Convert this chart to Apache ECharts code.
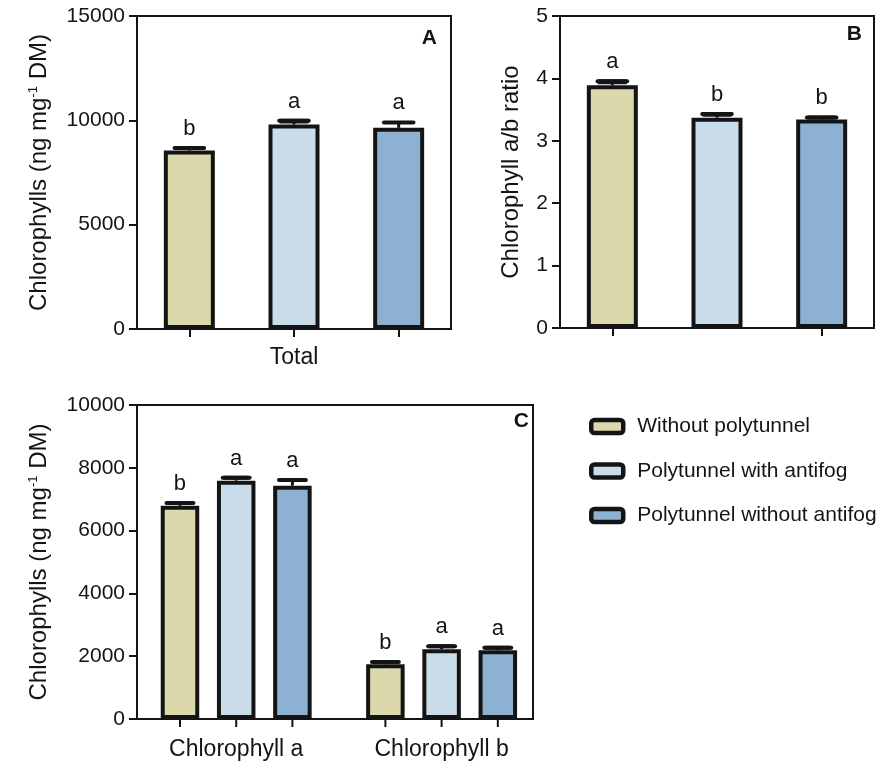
<!DOCTYPE html>
<html><head><meta charset="utf-8">
<script src="https://cdn.jsdelivr.net/npm/echarts@6/dist/echarts.min.js"></script>
<style>html,body{margin:0;padding:0;background:#fff}#chart{width:894px;height:765px}</style>
</head><body><div id="chart"></div>
<script>
// ---------- data ----------
const treatments = ['Without polytunnel', 'Polytunnel with antifog', 'Polytunnel without antifog'];
const treatmentColors = ['#dbd8ac', '#c9dcea', '#8db1d0'];

// Panel A: total chlorophylls
const totalValues = [8550, 9800, 9640];
const totalErrors = [120, 180, 260];
const totalLetters = ['b', 'a', 'a'];
const totalTicks = [0, 5000, 10000, 15000];

// Panel B: chlorophyll a/b ratio
const ratioValues = [3.89, 3.37, 3.34];
const ratioErrors = [0.065, 0.06, 0.035];
const ratioLetters = ['a', 'b', 'b'];
const ratioTicks = [0, 1, 2, 3, 4, 5];

// Panel C: chlorophyll a and b
const pigmentCategories = ['Chlorophyll a', 'Chlorophyll b'];
const pigmentWithoutPolytunnel = [6790, 1745];
const pigmentWithAntifog = [7590, 2225];
const pigmentWithoutAntifog = [7430, 2190];
const pigmentErrWithoutPolytunnel = [90, 70];
const pigmentErrWithAntifog = [90, 90];
const pigmentErrWithoutAntifog = [185, 80];
const pigmentLettersWithoutPolytunnel = ['b', 'b'];
const pigmentLettersWithAntifog = ['a', 'a'];
const pigmentLettersWithoutAntifog = ['a', 'a'];
const pigmentTicks = [0, 2000, 4000, 6000, 8000, 10000];

// ---------- style ----------
const FONT = '"Liberation Sans", Arial, Helvetica, sans-serif';
const INK = '#141414';
const BORDER_W = 4;
const BAR_W_AB = 51;
const BAR_W_C = 38.5;
const BAR_GAP_C = '46%';

const pigmentValues = [pigmentWithoutPolytunnel, pigmentWithAntifog, pigmentWithoutAntifog];
const pigmentErrors = [pigmentErrWithoutPolytunnel, pigmentErrWithAntifog, pigmentErrWithoutAntifog];
const pigmentLetters = [pigmentLettersWithoutPolytunnel, pigmentLettersWithAntifog, pigmentLettersWithoutAntifog];

function yAxisFor(gridIndex, ticks, name, nameGap, show) {
  const step = ticks[1] - ticks[0];
  return {
    gridIndex, type: 'value', show: show !== false,
    min: ticks[0], max: ticks[ticks.length - 1], interval: step,
    splitLine: { show: false },
    axisLine: { show: true, lineStyle: { color: INK, width: 2 } },
    axisTick: { show: true, length: 8, lineStyle: { color: INK, width: 2 } },
    axisLabel: { fontSize: 21, fontFamily: FONT, color: INK, margin: 12, formatter: (v) => String(v) },
    name: name, nameLocation: 'middle', nameRotate: 90, nameGap: nameGap,
    nameTextStyle: {
      fontFamily: FONT, color: INK,
      rich: {
        t: { fontSize: 24, fontFamily: FONT, color: INK, lineHeight: 24 },
        s: { fontSize: 13, fontFamily: FONT, color: INK, lineHeight: 13, verticalAlign: 'top' }
      }
    }
  };
}

function errorShapes(x, base, top, half, letter) {
  return [
    { type: 'line', shape: { x1: x, y1: base, x2: x, y2: top }, style: { stroke: INK, lineWidth: 3 } },
    { type: 'rect', shape: { x: x - half, y: top - 2, width: half * 2, height: Math.max(4, base - top + 1), r: 1.5 }, style: { fill: INK }, invisible: (base - top) > 5 },
    { type: 'line', shape: { x1: x - half, y1: top, x2: x + half, y2: top }, style: { stroke: INK, lineWidth: 4, lineCap: 'round' } },
    { type: 'text', style: { text: letter, x: x, y: top - 8, align: 'center', verticalAlign: 'bottom', fontSize: 22, fontFamily: FONT, fill: INK } }
  ];
}

function errorRenderer(letters, capRatio, barW) {
  return function (params, api) {
    const i = params.dataIndex;
    const base = api.coord([api.value(0), api.value(1)]);
    const top = api.coord([api.value(0), api.value(1) + api.value(2)]);
    return { type: 'group', children: errorShapes(base[0], base[1], top[1], barW * capRatio, letters[i]) };
  };
}

const cData = [];
for (let s = 0; s < 3; s++) {
  for (let c = 0; c < pigmentCategories.length; c++) {
    cData.push([c, pigmentValues[s][c], pigmentErrors[s][c], s]);
  }
}

function renderC(params, api) {
  const c = api.value(0), v = api.value(1), e = api.value(2), s = api.value(3);
  let offset;
  if (api.barLayout) {
    const lay = api.barLayout({ count: 3, barWidth: BAR_W_C, barGap: BAR_GAP_C });
    offset = lay[s].offsetCenter;
  } else {
    offset = (s - 1) * BAR_W_C * 1.46;
  }
  const base = api.coord([c, v]);
  const top = api.coord([c, v + e]);
  const zero = api.coord([c, 0]);
  const x = base[0] + offset;
  const children = errorShapes(x, base[1], top[1], BAR_W_C * 0.35, pigmentLetters[s][c]);
  children.push({ type: 'line', shape: { x1: x, y1: zero[1], x2: x, y2: zero[1] + 8 }, style: { stroke: INK, lineWidth: 2 } });
  return { type: 'group', children };
}

const gridCommon = { show: true, borderColor: INK, borderWidth: 2, backgroundColor: 'transparent', outerBoundsMode: 'none', containLabel: false };

const option = {
  backgroundColor: '#ffffff',
  animation: false,
  textStyle: { fontFamily: FONT },
  grid: [
    Object.assign({ left: 137, top: 16, width: 314, height: 313 }, gridCommon),
    Object.assign({ left: 560, top: 16, width: 314, height: 312 }, gridCommon),
    Object.assign({ left: 137, top: 405, width: 396, height: 314 }, gridCommon),
    { show: false, left: 133.5, top: 405, width: 410.8, height: 314, outerBoundsMode: 'none', containLabel: false }
  ],
  xAxis: [
    { gridIndex: 0, type: 'category', data: treatments,
      axisLine: { show: true, lineStyle: { color: INK, width: 2 } },
      axisTick: { show: true, alignWithLabel: true, length: 8, lineStyle: { color: INK, width: 2 } },
      axisLabel: { interval: 0, formatter: (v, i) => (i === 1 ? 'Total' : ''), fontSize: 23, fontFamily: FONT, color: INK, margin: 17 } },
    { gridIndex: 1, type: 'category', data: treatments,
      axisLine: { show: true, lineStyle: { color: INK, width: 2 } },
      axisTick: { show: true, alignWithLabel: true, length: 8, lineStyle: { color: INK, width: 2 } },
      axisLabel: { show: false } },
    { gridIndex: 2, type: 'category', data: [''],
      axisLine: { show: true, lineStyle: { color: INK, width: 2 } },
      axisTick: { show: false }, axisLabel: { show: false } },
    { gridIndex: 3, type: 'category', data: pigmentCategories,
      axisLine: { show: false }, axisTick: { show: false },
      axisLabel: { interval: 0, fontSize: 23, fontFamily: FONT, color: INK, margin: 19 } }
  ],
  yAxis: [
    yAxisFor(0, totalTicks, '{t|Chlorophylls (ng mg}{s|-1}{t| DM)}', 86),
    yAxisFor(1, ratioTicks, '{t|Chlorophyll a/b ratio}', 37),
    yAxisFor(2, pigmentTicks, '{t|Chlorophylls (ng mg}{s|-1}{t| DM)}', 86),
    yAxisFor(3, pigmentTicks, '', 0, false)
  ],
  legend: {
    data: treatments, orient: 'vertical', left: 589, top: 416, padding: 0,
    itemWidth: 32, itemHeight: 13, itemGap: 23.5, icon: 'roundRect', selectedMode: false,
    itemStyle: { borderColor: INK, borderWidth: 4.5 },
    textStyle: { fontSize: 21, fontFamily: FONT, color: INK, lineHeight: 21, padding: [0, 0, 0, 9] }
  },
  graphic: [
    { type: 'text', right: 457, top: 28, style: { text: 'A', font: 'bold 21px ' + FONT, fill: INK } },
    { type: 'text', right: 32, top: 24, style: { text: 'B', font: 'bold 21px ' + FONT, fill: INK } },
    { type: 'text', right: 365, top: 411, style: { text: 'C', font: 'bold 21px ' + FONT, fill: INK } }
  ],
  series: [
    { type: 'bar', name: 'Total', xAxisIndex: 0, yAxisIndex: 0, barWidth: BAR_W_AB,
      data: totalValues.map((v, i) => ({ value: v, itemStyle: { color: treatmentColors[i] } })),
      itemStyle: { borderColor: INK, borderWidth: BORDER_W } },
    { type: 'custom', xAxisIndex: 0, yAxisIndex: 0, clip: false, z: 5,
      data: totalValues.map((v, i) => [i, v, totalErrors[i]]),
      renderItem: errorRenderer(totalLetters, 0.29, BAR_W_AB) },
    { type: 'bar', name: 'Ratio', xAxisIndex: 1, yAxisIndex: 1, barWidth: BAR_W_AB,
      data: ratioValues.map((v, i) => ({ value: v, itemStyle: { color: treatmentColors[i] } })),
      itemStyle: { borderColor: INK, borderWidth: BORDER_W } },
    { type: 'custom', xAxisIndex: 1, yAxisIndex: 1, clip: false, z: 5,
      data: ratioValues.map((v, i) => [i, v, ratioErrors[i]]),
      renderItem: errorRenderer(ratioLetters, 0.29, BAR_W_AB) },
    ...treatments.map((name, s) => ({
      type: 'bar', name: name, xAxisIndex: 3, yAxisIndex: 3, barWidth: BAR_W_C, barGap: BAR_GAP_C,
      data: pigmentValues[s],
      itemStyle: { color: treatmentColors[s], borderColor: INK, borderWidth: BORDER_W }
    })),
    { type: 'custom', xAxisIndex: 3, yAxisIndex: 3, clip: false, z: 5,
      encode: { x: 0, y: 1 },
      data: cData, renderItem: renderC }
  ]
};

const chart = echarts.init(document.getElementById('chart'), null, { renderer: 'canvas' });
chart.setOption(option);
</script>
</body></html>
